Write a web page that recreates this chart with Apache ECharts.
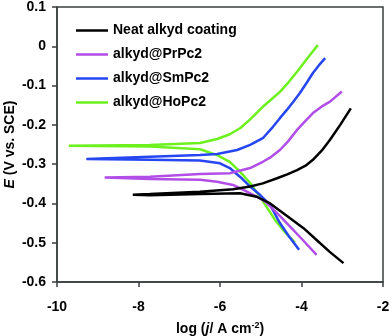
<!DOCTYPE html>
<html><head><meta charset="utf-8">
<script src="https://cdn.jsdelivr.net/npm/echarts@6/dist/echarts.min.js"></script>
<style>html,body{margin:0;padding:0;background:#fff}#c{width:392px;height:336px}</style>
</head><body><div id="c"></div>
<script>
const seriesNames = ['Neat alkyd coating', 'alkyd@PrPc2', 'alkyd@SmPc2', 'alkyd@HoPc2'];
const xTicks = [-10, -8, -6, -4, -2];
const yTicks = [-0.6, -0.5, -0.4, -0.3, -0.2, -0.1, 0, 0.1];

// each curve: anodic branch (end -> Ecorr tip) then cathodic branch (tip -> end); [log j, E]
const neatAnodic = [[-2.79,-0.158],[-3.05,-0.200],[-3.30,-0.238],[-3.50,-0.265],[-3.72,-0.289],[-3.90,-0.304],[-4.11,-0.315],[-4.35,-0.326],[-4.60,-0.336],[-4.95,-0.349],[-5.26,-0.357],[-5.68,-0.364],[-6.49,-0.370],[-7.72,-0.376],[-8.14,-0.378]];
const neatCathodic = [[-8.14,-0.378],[-7.72,-0.379],[-6.49,-0.376],[-5.51,-0.374],[-5.10,-0.383],[-4.77,-0.400],[-4.28,-0.438],[-3.95,-0.463],[-3.63,-0.493],[-3.30,-0.524],[-2.97,-0.552]];

const prAnodic = [[-3.01,-0.115],[-3.30,-0.141],[-3.50,-0.153],[-3.72,-0.170],[-3.92,-0.192],[-4.11,-0.213],[-4.33,-0.242],[-4.53,-0.264],[-4.75,-0.282],[-4.95,-0.294],[-5.26,-0.310],[-5.76,-0.323],[-6.49,-0.325],[-7.72,-0.332],[-8.83,-0.334]];
const prCathodic = [[-8.83,-0.334],[-7.72,-0.338],[-6.49,-0.340],[-6.07,-0.345],[-5.68,-0.353],[-5.34,-0.370],[-5.02,-0.387],[-4.85,-0.399],[-4.55,-0.430],[-4.28,-0.459],[-3.95,-0.495],[-3.63,-0.531]];

const smAnodic = [[-3.42,-0.030],[-3.57,-0.048],[-3.72,-0.068],[-3.88,-0.094],[-4.04,-0.119],[-4.20,-0.141],[-4.36,-0.162],[-4.53,-0.183],[-4.70,-0.205],[-4.95,-0.234],[-5.26,-0.251],[-5.58,-0.264],[-6.07,-0.274],[-6.49,-0.277],[-7.72,-0.281],[-9.28,-0.287]];
const smCathodic = [[-9.28,-0.287],[-7.72,-0.289],[-6.49,-0.291],[-6.00,-0.298],[-5.76,-0.310],[-5.51,-0.332],[-5.26,-0.357],[-5.02,-0.378],[-4.77,-0.404],[-4.53,-0.450],[-4.30,-0.485],[-4.06,-0.518]];

const hoAnodic = [[-3.60,0.003],[-3.85,-0.030],[-4.11,-0.065],[-4.33,-0.093],[-4.53,-0.116],[-4.75,-0.136],[-4.95,-0.154],[-5.26,-0.186],[-5.50,-0.208],[-5.76,-0.224],[-6.07,-0.236],[-6.49,-0.246],[-7.72,-0.251],[-9.71,-0.253]];
const hoCathodic = [[-9.71,-0.253],[-7.72,-0.255],[-6.49,-0.262],[-6.07,-0.277],[-5.76,-0.294],[-5.51,-0.319],[-5.26,-0.348],[-4.97,-0.391],[-4.65,-0.442],[-4.40,-0.474],[-4.16,-0.500]];

const curves = [neatAnodic.concat(neatCathodic), prAnodic.concat(prCathodic), smAnodic.concat(smCathodic), hoAnodic.concat(hoCathodic)];
const colors = ['#000000', '#b24ee8', '#2646f2', '#6cf01e'];

const font = 'Liberation Sans, Arial, sans-serif';
const chart = echarts.init(document.getElementById('c'));
chart.setOption({
  animation: false,
  color: colors,
  grid: { left: 57, right: 9, top: 7, bottom: 54, show: true, containLabel: false, outerBoundsMode: 'none',
          borderColor: '#3a3f3f', borderWidth: 1.5, backgroundColor: 'transparent' },
  legend: {
    orient: 'vertical', left: 71, top: 17, icon: 'rect', itemWidth: 32, itemHeight: 2.5, itemGap: 7,
    textStyle: { fontFamily: font, fontWeight: 'bold', fontSize: 14, color: '#000', lineHeight: 17 },
    data: seriesNames
  },
  xAxis: {
    type: 'value', min: -10, max: -2, interval: 2,
    axisLine: { onZero: false, lineStyle: { color: '#3a3f3f', width: 1.5 } },
    axisTick: { show: true, inside: false, length: 5, lineStyle: { color: '#3a3f3f', width: 1.5 } },
    splitLine: { show: false },
    axisLabel: { fontFamily: font, fontWeight: 'bold', fontSize: 14, color: '#000', margin: 18,
      formatter: v => xTicks.includes(v) ? String(v) : '' },
    name: 'log ({i|j}/ A cm{sup|-2})', nameLocation: 'middle', nameGap: 39, nameMoveOverlap: false,
    nameTextStyle: { fontFamily: font, fontWeight: 'bold', fontSize: 14, color: '#000',
      rich: { i: { fontFamily: font, fontWeight: 'bold', fontStyle: 'italic', fontSize: 14, color: '#000' },
              sup: { fontFamily: font, fontWeight: 'bold', fontSize: 9, color: '#000', verticalAlign: 'top', padding: [0, 0, 8, 0] } } }
  },
  yAxis: {
    type: 'value', min: -0.6, max: 0.1, interval: 0.1,
    axisLine: { onZero: false, lineStyle: { color: '#3a3f3f', width: 1.5 } },
    axisTick: { show: true, inside: false, length: 5, lineStyle: { color: '#3a3f3f', width: 1.5 } },
    splitLine: { show: false },
    axisLabel: { fontFamily: font, fontWeight: 'bold', fontSize: 14, color: '#000', margin: 11,
      formatter: v => { const r = Math.round(v * 10) / 10; return yTicks.includes(r) ? String(r) : ''; } },
    name: '{i|E} (V vs. SCE)', nameLocation: 'middle', nameGap: 40, nameRotate: 90, nameMoveOverlap: false,
    nameTextStyle: { fontFamily: font, fontWeight: 'bold', fontSize: 14, color: '#000',
      rich: { i: { fontFamily: font, fontWeight: 'bold', fontStyle: 'italic', fontSize: 14, color: '#000' } } }
  },
  series: seriesNames.map((n, k) => ({
    name: n, type: 'line', data: curves[k], showSymbol: false, symbol: 'none',
    lineStyle: { width: 2.5, color: colors[k] }, itemStyle: { color: colors[k] }, z: 2 + (3 - k)
  }))
});
</script></body></html>
